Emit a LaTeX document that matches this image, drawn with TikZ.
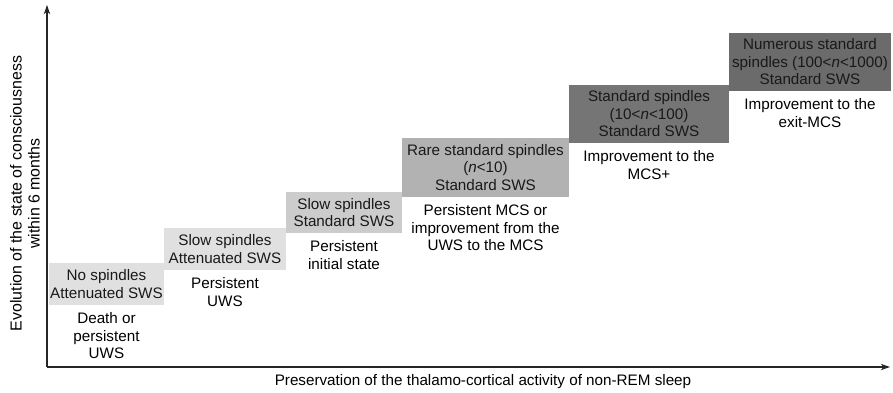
\documentclass[tikz,border=0pt]{standalone}
\usepackage{fontspec}
\setmainfont{Liberation Sans}
\usetikzlibrary{arrows.meta}

\begin{document}
\begin{tikzpicture}[x=0.3cm, y=0.3cm,
    lbl/.style={font=\fontsize{13}{14.9}\selectfont, align=center, inner sep=0pt},
    stage/.style={lbl, fill=#1, text=black!90},
    outcome/.style={lbl, anchor=north, yshift=-2.2mm},
    axis/.style={line width=0.9pt, black!85, -{Stealth[length=8pt, width=5.5pt]}}]
    \useasboundingbox (0,0) rectangle (89.3,39.2);

    % Axes
    \coordinate (O) at (4.7,2.5);
    \coordinate (ytip) at (4.7,38.7);
    \coordinate (xtip) at (89.0,2.5);
    \draw[axis] (O) -- (ytip);
    \draw[axis] (O) -- (xtip);
    \node[lbl, font=\fontsize{13.6}{15.4}\selectfont, rotate=90] (ylabel) at (2.5,19.85) {Evolution of the state of consciousness\\within 6 months};
    \node[lbl] (xlabel) at (48.3,1.0) {Preservation of the thalamo-cortical activity of non-REM sleep};

    % Stages
    \node[stage=black!12, minimum width=3.45cm, minimum height=1.26cm] (s1) at (10.65,10.8) {No spindles\\Attenuated SWS};
    \node[stage=black!12, minimum width=3.66cm, minimum height=1.26cm] (s2) at (22.5,14.3) {Slow spindles\\Attenuated SWS};
    \node[stage=black!20, minimum width=3.48cm, minimum height=1.23cm] (s3) at (34.4,17.95) {Slow spindles\\Standard SWS};
    \node[stage=black!30, minimum width=5.01cm, minimum height=1.77cm] (s4) at (48.55,22.45) {Rare standard spindles\\(\textit{n}<10)\\Standard SWS};
    \node[stage=black!54, minimum width=4.8cm, minimum height=1.74cm] (s5) at (64.9,27.8) {Standard spindles\\(10<\textit{n}<100)\\Standard SWS};
    \node[stage=black!58, minimum width=4.86cm, minimum height=1.74cm] (s6) at (81.0,33.0) {Numerous standard\\spindles (100<\textit{n}<1000)\\Standard SWS};

    % Outcomes
    \node[outcome] (o1) at (s1.south) {Death or\\persistent\\UWS};
    \node[outcome] (o2) at (s2.south) {Persistent\\UWS};
    \node[outcome] (o3) at (s3.south) {Persistent\\initial state};
    \node[outcome] (o4) at (s4.south) {Persistent MCS or\\improvement from the\\UWS to the MCS};
    \node[outcome] (o5) at (s5.south) {Improvement to the\\MCS+};
    \node[outcome] (o6) at (s6.south) {Improvement to the\\exit-MCS};
\end{tikzpicture}
\end{document}
